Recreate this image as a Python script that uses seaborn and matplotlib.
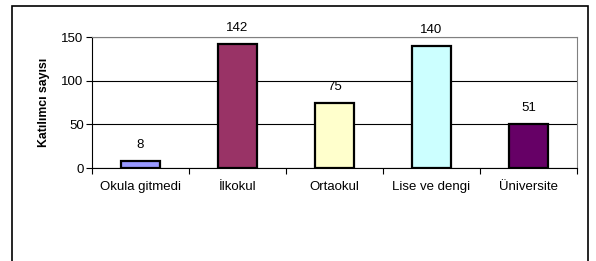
import pandas as pd
import matplotlib
matplotlib.use("Agg")
import matplotlib.pyplot as plt
import matplotlib.patches as patches
import seaborn as sns

# data
categories = ["Okula gitmedi", "İlkokul", "Ortaokul", "Lise ve dengi", "Üniversite"]
counts = [8, 142, 75, 140, 51]
bar_colors = ["#9999FF", "#993366", "#FFFFCC", "#CCFFFF", "#660066"]

df = pd.DataFrame({"Egitim": categories, "Sayi": counts})

sns.set_theme(style="white")
plt.rcParams["font.family"] = ["Liberation Sans", "DejaVu Sans"]
plt.rcParams["text.color"] = "black"
plt.rcParams["axes.labelcolor"] = "black"
plt.rcParams["xtick.color"] = "black"
plt.rcParams["ytick.color"] = "black"

fig = plt.figure(figsize=(5.96, 2.61), dpi=100)
ax = fig.add_axes([0.1544, 0.356, 0.8136, 0.502])

sns.barplot(data=df, x="Egitim", y="Sayi", hue="Egitim", palette=bar_colors,
            legend=False, width=0.41, edgecolor="black", linewidth=1.6,
            saturation=1, ax=ax)

ax.set_ylim(0, 150)
ax.set_yticks([0, 50, 100, 150])
ax.yaxis.grid(True, color="black", linewidth=0.8)
ax.set_axisbelow(True)
ax.set_xlim(-0.5, len(categories) - 0.5)

for s in ["top", "right"]:
    ax.spines[s].set_color("#808080")
    ax.spines[s].set_linewidth(0.8)
for s in ["left", "bottom"]:
    ax.spines[s].set_color("black")
    ax.spines[s].set_linewidth(0.8)

# category boundary ticks like the spreadsheet chart
ax.set_xticks([i - 0.5 for i in range(len(categories) + 1)], minor=True)
ax.tick_params(axis="x", which="minor", length=4, width=0.8, color="black", bottom=True)
ax.tick_params(axis="x", which="major", length=0, labelsize=9.5, pad=9)
ax.tick_params(axis="y", length=4, width=0.8, color="black", left=True, labelsize=9.5, pad=2)

for i, v in enumerate(counts):
    ax.annotate(str(v), (i, v), xytext=(0, 7), textcoords="offset points",
                ha="center", va="bottom", fontsize=9.5)

ax.set_xlabel("")
ax.set_ylabel("Katılımcı sayısı", fontsize=8.8, fontweight="bold", labelpad=8)

# outer chart frame
fig.patches.append(patches.Rectangle((12 / 596, -0.1), 576 / 596, 1.1 - 6 / 261,
                                     transform=fig.transFigure, fill=False,
                                     edgecolor="black", linewidth=1.2))

fig.savefig("out.png", dpi=100)
